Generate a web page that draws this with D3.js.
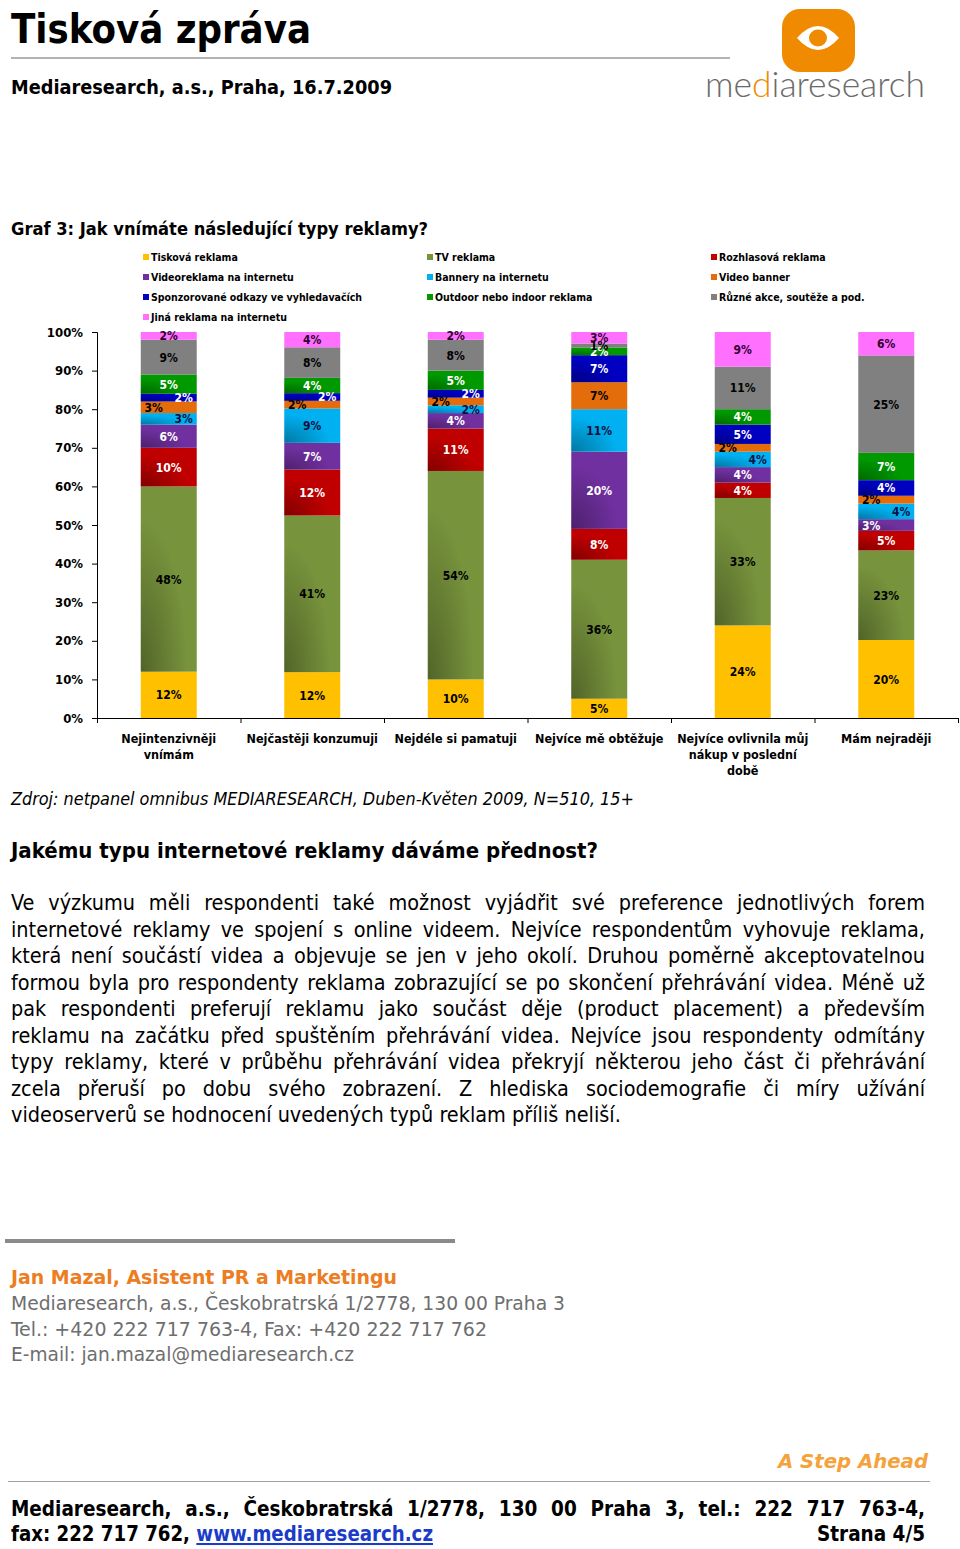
<!DOCTYPE html>
<html><head><meta charset="utf-8">
<script src="https://cdn.jsdelivr.net/npm/d3@7"></script>
<style>body{margin:0;background:#fff} svg{display:block}</style>
</head><body>
<svg id="page" width="960" height="1549"></svg>
<script>
// ---------- DATA ----------
const categories = ["Nejintenzivněji\nvnímám", "Nejčastěji konzumuji", "Nejdéle si pamatuji", "Nejvíce mě obtěžuje", "Nejvíce ovlivnila můj\nnákup v poslední\ndobě", "Mám nejraději"];
const seriesNames = ["Tisková reklama", "TV reklama", "Rozhlasová reklama", "Videoreklama na internetu", "Bannery na internetu", "Video banner", "Sponzorované odkazy ve vyhledavačích", "Outdoor nebo indoor reklama", "Různé akce, soutěže a pod.", "Jiná reklama na internetu"];
const tiskova      = [12, 12, 10, 5, 24, 20];
const tvReklama    = [48, 41, 54, 36, 33, 23];
const rozhlasova   = [10, 12, 11, 8, 4, 5];
const videoreklama = [6, 7, 4, 20, 4, 3];
const bannery      = [3, 9, 2, 11, 4, 4];
const videoBanner  = [3, 2, 2, 7, 2, 2];
const sponzorovane = [2, 2, 2, 7, 5, 4];
const outdoor      = [5, 4, 5, 2, 4, 7];
const ruzne        = [9, 8, 8, 1, 11, 25];
const jina         = [2, 4, 2, 3, 9, 6];
const yTicks = [0, 10, 20, 30, 40, 50, 60, 70, 80, 90, 100];

// ---------- STYLE ----------
const seriesValues = [tiskova, tvReklama, rozhlasova, videoreklama, bannery, videoBanner, sponzorovane, outdoor, ruzne, jina];
const colors = ["#FFC000", "#77933C", "#C00000", "#7030A0", "#00B0F0", "#E46C0A", "#0000C0", "#009A00", "#808080", "#FF70FF"];
const labelColors = ["#000", "#000", "#fff", "#fff", "#101040", "#000", "#fff", "#fff", "#000", "#300030"];
const shaded = [false, true, true, true, true, false, true, true, false, false];
// label nudge: [direction, max value for which nudge applies]
const nudge = {4: [1, 4], 5: [-1, 4], 6: [1, 2], 3: [-1, 3]};

const F = "'DejaVu Sans Condensed','DejaVu Sans',sans-serif";
const svg = d3.select("#page");
const defs = svg.append("defs");
const rg = defs.append("radialGradient").attr("id", "shade").attr("cx", 0).attr("cy", 1).attr("r", 1.1);
rg.append("stop").attr("offset", 0).attr("stop-color", "#000").attr("stop-opacity", 0.32);
rg.append("stop").attr("offset", 0.75).attr("stop-color", "#000").attr("stop-opacity", 0);

// ---------- HEADER ----------
svg.append("text").attr("x", 11).attr("y", 43).attr("font-family", F).attr("font-weight", "bold")
  .attr("font-size", 40).attr("textLength", 300).attr("lengthAdjust", "spacingAndGlyphs").text("Tisková zpráva");
svg.append("line").attr("x1", 11).attr("x2", 730).attr("y1", 58).attr("y2", 58).attr("stroke", "#9a9a9a").attr("stroke-width", 1.5);
svg.append("text").attr("x", 11).attr("y", 94).attr("font-family", F).attr("font-weight", "bold")
  .attr("font-size", 20).attr("textLength", 381).attr("lengthAdjust", "spacingAndGlyphs").text("Mediaresearch, a.s., Praha, 16.7.2009");

// logo
const logo = svg.append("g");
logo.append("rect").attr("x", 782).attr("y", 9).attr("width", 73).attr("height", 63).attr("rx", 18).attr("fill", "#F08A00");
logo.append("path").attr("d", "M797,38 Q818,14 839,38 Q818,62 797,38 Z").attr("fill", "#fff");
logo.append("ellipse").attr("cx", 818).attr("cy", 38).attr("rx", 9).attr("ry", 8.5).attr("fill", "#F08A00");
const lt = logo.append("text").attr("x", 705).attr("y", 97).attr("font-family", "Lato, 'Open Sans', sans-serif")
  .attr("font-weight", 300).attr("font-size", 35).attr("fill", "#6a6a6a").attr("textLength", 220).attr("lengthAdjust", "spacingAndGlyphs");
lt.append("tspan").text("me");
lt.append("tspan").attr("fill", "#F08A00").text("d");
lt.append("tspan").text("iaresearch");

// ---------- CHART ----------
svg.append("text").attr("x", 11).attr("y", 235).attr("font-family", F).attr("font-weight", "bold")
  .attr("font-size", 18).attr("textLength", 417).attr("lengthAdjust", "spacingAndGlyphs").text("Graf 3: Jak vnímáte následující typy reklamy?");

// legend
const legCols = [143, 427, 711], legRow0 = 257, legRowH = 20;
const leg = svg.append("g").selectAll("g").data(seriesNames).join("g")
  .attr("transform", (d, i) => `translate(${legCols[i % 3]},${legRow0 + Math.floor(i / 3) * legRowH})`);
leg.append("rect").attr("x", 0).attr("y", -3).attr("width", 6).attr("height", 6).attr("fill", (d, i) => colors[i]);
leg.append("text").attr("x", 8).attr("y", 3.8).attr("font-family", F).attr("font-weight", "bold").attr("font-size", 10.5)
  .text(d => d);

const table = categories.map((c, ci) => {
  const o = {cat: c};
  seriesNames.forEach((s, si) => o[s] = seriesValues[si][ci]);
  return o;
});
const stack = d3.stack().keys(seriesNames).offset(d3.stackOffsetExpand)(table);

const x = d3.scaleBand().domain(categories).range([97, 958]).paddingInner(0.61).paddingOuter(0.305);
const y = d3.scaleLinear().domain([0, 1]).range([718, 332]);

const chart = svg.append("g");
stack.forEach((layer, si) => {
  const g = chart.append("g");
  g.selectAll("rect.seg").data(layer).join("rect").attr("class", "seg")
    .attr("x", d => x(d.data.cat)).attr("width", x.bandwidth())
    .attr("y", d => y(d[1])).attr("height", d => y(d[0]) - y(d[1])).attr("fill", colors[si]);
  if (shaded[si]) {
    g.selectAll("rect.sh").data(layer).join("rect").attr("class", "sh")
      .attr("x", d => x(d.data.cat)).attr("width", x.bandwidth())
      .attr("y", d => y(d[1])).attr("height", d => y(d[0]) - y(d[1])).attr("fill", "url(#shade)");
  }
});
stack.forEach((layer, si) => {
  chart.append("g").selectAll("text").data(layer).join("text")
    .attr("x", d => {
      const v = d.data[seriesNames[si]];
      let cx = x(d.data.cat) + x.bandwidth() / 2;
      const n = nudge[si];
      if (n && v <= n[1]) cx += n[0] * 15;
      return cx;
    })
    .attr("y", d => (y(d[0]) + y(d[1])) / 2 + 4.5)
    .attr("text-anchor", "middle").attr("font-family", F).attr("font-weight", "bold").attr("font-size", 12)
    .attr("fill", labelColors[si]).text(d => d.data[seriesNames[si]] + "%");
});

// axes
const yAxis = d3.axisLeft(y).tickValues(yTicks.map(t => t / 100)).tickFormat(d => Math.round(d * 100) + "%")
  .tickSize(5).tickPadding(9);
const ya = svg.append("g").attr("transform", "translate(97,0)").call(yAxis);
ya.select(".domain").attr("stroke", "#000").attr("d", "M-5,332.5H0.5V718.5");
ya.selectAll(".tick line").attr("stroke", "#000");
ya.selectAll(".tick text").attr("font-family", F).attr("font-weight", "bold").attr("font-size", 13).attr("fill", "#000");

const xb = d3.scaleLinear().domain([0, categories.length]).range([97, 958]);
const xAxis = d3.axisBottom(xb).tickValues(d3.range(0, categories.length + 1)).tickFormat("").tickSize(5).tickSizeOuter(0);
const xa = svg.append("g").attr("transform", "translate(0,718)").call(xAxis);
xa.select(".domain").attr("stroke", "#000");
xa.selectAll(".tick line").attr("stroke", "#000");

const catG = svg.append("g").selectAll("text").data(categories).join("text")
  .attr("x", d => x(d) + x.bandwidth() / 2).attr("y", 743).attr("text-anchor", "middle")
  .attr("font-family", F).attr("font-weight", "bold").attr("font-size", 12.5).attr("fill", "#000");
catG.each(function(d) {
  const t = d3.select(this);
  d.split("\n").forEach((line, i) => {
    t.append("tspan").attr("x", x(d) + x.bandwidth() / 2).attr("dy", i === 0 ? 0 : 16).text(line);
  });
});

svg.append("text").attr("x", 11).attr("y", 805).attr("font-family", F).attr("font-style", "italic")
  .attr("font-size", 18).attr("textLength", 623).attr("lengthAdjust", "spacingAndGlyphs")
  .text("Zdroj: netpanel omnibus MEDIARESEARCH, Duben-Květen 2009, N=510, 15+");

// ---------- TEXT ----------
svg.append("text").attr("x", 11).attr("y", 858).attr("font-family", F).attr("font-weight", "bold")
  .attr("font-size", 22).attr("textLength", 587).attr("lengthAdjust", "spacingAndGlyphs")
  .text("Jakému typu internetové reklamy dáváme přednost?");

const paraLines = [
  "Ve výzkumu měli respondenti také možnost vyjádřit své preference jednotlivých forem",
  "internetové reklamy ve spojení s online videem. Nejvíce respondentům vyhovuje reklama,",
  "která není součástí videa a objevuje se jen v jeho okolí. Druhou poměrně akceptovatelnou",
  "formou byla pro respondenty reklama zobrazující se po skončení přehrávání videa. Méně už",
  "pak respondenti preferují reklamu jako součást děje (product placement) a především",
  "reklamu na začátku před spuštěním přehrávání videa. Nejvíce jsou respondenty odmítány",
  "typy reklamy, které v průběhu přehrávání videa překryjí některou jeho část či přehrávání",
  "zcela přeruší po dobu svého zobrazení. Z hlediska sociodemografie či míry užívání",
  "videoserverů se hodnocení uvedených typů reklam příliš neliší."
];

function measure(text, attrs) {
  const t = svg.append("text").text(text);
  Object.entries(attrs).forEach(([k, v]) => t.attr(k, v));
  const w = t.node().getComputedTextLength();
  t.remove();
  return w;
}
function justifyLine(parent, text, x0, x1, yb, attrs, justify) {
  const words = text.split(" ");
  const g = parent.append("g");
  const nodes = words.map(w => {
    const t = g.append("text").attr("y", yb).text(w);
    Object.entries(attrs).forEach(([k, v]) => t.attr(k, v));
    return t;
  });
  const widths = nodes.map(n => n.node().getComputedTextLength());
  const total = d3.sum(widths);
  const sp = justify ? (x1 - x0 - total) / (words.length - 1) : measure("a a", attrs) - measure("aa", attrs);
  let cx = x0;
  nodes.forEach((n, i) => { n.attr("x", cx); cx += widths[i] + sp; });
  return g;
}
// fit paragraph font so that the last (unjustified) line spans like the reference
let pSize = 20;
{
  const base = {"font-family": F, "font-size": 20};
  const w9 = measure(paraLines[8], base);
  pSize = 20 * 610 / w9;
  // make sure the densest line still fits with a minimal word gap
  paraLines.forEach(l => {
    const words = l.split(" ");
    const ww = d3.sum(words, w => measure(w, {"font-family": F, "font-size": pSize}));
    const need = ww + (words.length - 1) * 3.5;
    if (need > 914) pSize *= 914 / need;
  });
}
const pAttrs = {"font-family": F, "font-size": pSize, "fill": "#000"};
const para = svg.append("g");
paraLines.forEach((l, i) => justifyLine(para, l, 11, 925, 910 + i * 26.5, pAttrs, i < paraLines.length - 1));

// ---------- FOOTER ----------
svg.append("rect").attr("x", 5).attr("y", 1239).attr("width", 450).attr("height", 4).attr("fill", "#8a8a8a");
svg.append("text").attr("x", 11).attr("y", 1284).attr("font-family", F).attr("font-weight", "bold")
  .attr("font-size", 20).attr("fill", "#EC7D22").attr("textLength", 386).attr("lengthAdjust", "spacingAndGlyphs")
  .text("Jan Mazal, Asistent PR a Marketingu");
const contact = [["Mediaresearch, a.s., Českobratrská 1/2778, 130 00 Praha 3", 554],
                 ["Tel.: +420 222 717 763-4, Fax: +420 222 717 762", 476],
                 ["E-mail: jan.mazal@mediaresearch.cz", 343]];
contact.forEach((c, i) => svg.append("text").attr("x", 11).attr("y", 1310 + i * 25.5).attr("font-family", F)
  .attr("font-size", 20).attr("fill", "#6e6e6e").attr("textLength", c[1]).attr("lengthAdjust", "spacingAndGlyphs").text(c[0]));

svg.append("text").attr("x", 928).attr("y", 1468).attr("text-anchor", "end").attr("font-family", F)
  .attr("font-weight", "bold").attr("font-style", "italic").attr("font-size", 20).attr("fill", "#F5A23C")
  .attr("textLength", 150).attr("lengthAdjust", "spacingAndGlyphs").text("A Step Ahead");
svg.append("line").attr("x1", 8).attr("x2", 930).attr("y1", 1481.5).attr("y2", 1481.5).attr("stroke", "#a0a0a0").attr("stroke-width", 1);

const fAttrs = {"font-family": F, "font-weight": "bold", "font-size": 20.5, "fill": "#000"};
justifyLine(svg, "Mediaresearch, a.s., Českobratrská 1/2778, 130 00 Praha 3, tel.: 222 717 763-4,", 11, 925, 1516, fAttrs, true);
const f2 = svg.append("text").attr("x", 11).attr("y", 1541).attr("font-family", F).attr("font-weight", "bold").attr("font-size", 20.5)
  .attr("textLength", 422).attr("lengthAdjust", "spacingAndGlyphs");
f2.append("tspan").text("fax: 222 717 762, ");
f2.append("tspan").attr("fill", "#1a3cc8").attr("text-decoration", "underline").text("www.mediaresearch.cz");
svg.append("text").attr("x", 925).attr("y", 1541).attr("text-anchor", "end").attr("font-family", F)
  .attr("font-weight", "bold").attr("font-size", 20.5).text("Strana 4/5");
</script>
</body></html>
